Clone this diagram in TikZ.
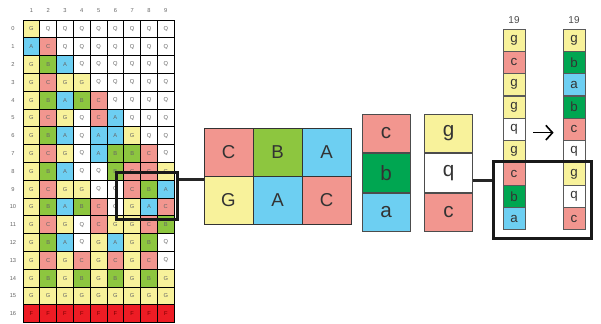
\documentclass[tikz,border=0pt]{standalone}
\usepackage{fontspec}
\setmainfont{Liberation Sans}
\usetikzlibrary{arrows.meta, positioning}

\definecolor{cellG}{HTML}{F8F29B}
\definecolor{cellA}{HTML}{6DCFF2}
\definecolor{cellB}{HTML}{8DC63F}
\definecolor{cellC}{HTML}{F2968F}
\definecolor{cellF}{HTML}{ED1C24}
\definecolor{cellb}{HTML}{00A651}
\definecolor{ink}{HTML}{333333}

\tikzset{
    letter G/.style={fill=cellG},
    letter Q/.style={fill=white},
    letter A/.style={fill=cellA},
    letter B/.style={fill=cellB},
    letter C/.style={fill=cellC},
    letter F/.style={fill=cellF, text=red!45!black},
    letter g/.style={fill=cellG},
    letter q/.style={fill=white},
    letter a/.style={fill=cellA},
    letter b/.style={fill=cellb},
    letter c/.style={fill=cellC}
}

\begin{document}
\begin{tikzpicture}[
    x=0.75pt, y=-0.75pt,
    every node/.style={inner sep=0pt, text=ink},
    gcell/.style={rectangle, draw=black, line width=0.7pt, minimum width=12.6pt, minimum height=13.35pt, text=black!60, font=\fontsize{4.3}{5}\selectfont},
    lbl/.style={text=black!60, font=\fontsize{4.3}{5}\selectfont},
    bcell/.style={rectangle, draw=black!80, line width=0.6pt, minimum width=36.75pt, minimum height=36pt, font=\fontsize{14}{14}\selectfont},
    ccell/.style={rectangle, draw=black!70, line width=0.6pt, minimum width=36pt, minimum height=29pt, font=\fontsize{15.5}{16}\selectfont},
    tcell/.style={rectangle, draw=black!65, line width=0.6pt, minimum width=16.5pt, minimum height=16.7pt, font=\fontsize{10}{10}\selectfont},
    zoombox/.style={rectangle, draw=black!90, line width=2.2pt},
    link/.style={draw=black!85, line width=2.2pt},
    arrow/.style={-{Straight Barb[length=5pt, width=11pt]}, line width=1.2pt}
]
\useasboundingbox[fill=white] (0,0) rectangle (601,324);

% the big grid
\foreach \c in {1,...,9}
    \node[lbl] (col-\c) at (14.6+16.8*\c, 11) {\c};
\foreach \line [count=\r from 0] in {
    {G,Q,Q,Q,Q,Q,Q,Q,Q}, {A,C,Q,Q,Q,Q,Q,Q,Q}, {G,B,A,Q,Q,Q,Q,Q,Q},
    {G,C,G,G,Q,Q,Q,Q,Q}, {G,B,A,B,C,Q,Q,Q,Q}, {G,C,G,Q,C,A,Q,Q,Q},
    {G,B,A,Q,A,A,G,Q,Q}, {G,C,G,Q,A,B,B,C,Q}, {G,B,A,Q,Q,B,C,C,G},
    {G,C,G,G,Q,Q,C,B,A}, {G,B,A,B,C,Q,G,A,C}, {G,C,G,Q,C,G,G,C,B},
    {G,B,A,Q,G,A,G,B,Q}, {G,C,G,C,G,C,G,C,Q}, {G,B,G,B,G,B,G,B,G},
    {G,G,G,G,G,G,G,G,G}, {F,F,F,F,F,F,F,F,F}} {
    \node[lbl] (row-\r) at (13, 28.9+17.8*\r) {\r};
    \foreach \ch [count=\c] in \line
        \node[gcell, letter \ch] (g-\r-\c) at (14.6+16.8*\c, 28.9+17.8*\r) {\ch};
}
\node[zoombox, minimum width=45.75pt, minimum height=35.25pt] (zoomA) at (147, 196) {};

% enlarged piece
\node[bcell, letter C] (blk-1-1) at (228.5, 152) {C};
\node[bcell, letter B] (blk-1-2) at (277.5, 152) {B};
\node[bcell, letter A] (blk-1-3) at (326.5, 152) {A};
\node[bcell, letter G] (blk-2-1) at (228.5, 200) {G};
\node[bcell, letter A] (blk-2-2) at (277.5, 200) {A};
\node[bcell, letter C] (blk-2-3) at (326.5, 200) {C};

% columns
\node[ccell, letter c] (cc) at (386, 133.35) {c};
\node[ccell, letter b, below=0pt of cc] (cb) {b};
\node[ccell, letter a, below=0pt of cb] (ca) {a};
\node[ccell, letter g] (cg) at (448.5, 133.35) {g};
\node[ccell, letter q, below=0pt of cg] (cq) {q};
\node[ccell, letter c, below=0pt of cq] (cc2) {c};

% tall columns
\foreach \ch [count=\k] in {g,c,g,g,q,g,c,b,a}
    \node[tcell, letter \ch] (L\k) at (514, 40.15+22.3*\k-22.3) {\ch};
\foreach \ch [count=\k] in {g,b,a,b,c,q,g,q,c}
    \node[tcell, letter \ch] (R\k) at (574, 40.15+22.3*\k-22.3) {\ch};
\node[above=3.5pt of L1, font=\fontsize{7.5}{8}\selectfont, text=black!70] (numL) {19};
\node[above=3.5pt of R1, font=\fontsize{7.5}{8}\selectfont, text=black!70] (numR) {19};
\draw[arrow, shorten <=6pt, shorten >=6.75pt] ([yshift=-2.5pt]L5.east) -- ([yshift=-2.5pt]R5.west);

\node[zoombox, minimum width=73.5pt, minimum height=57.75pt] (zoomB) at (542.5, 200) {};

\draw[link] ([yshift=-3pt]zoomA.east |- blk-2-1.north west) -- ([yshift=-3pt]blk-2-1.north west);
\draw[link] ([yshift=-6pt]cq.east) -- ([yshift=-6pt]cq.east -| zoomB.west);

\end{tikzpicture}
\end{document}
